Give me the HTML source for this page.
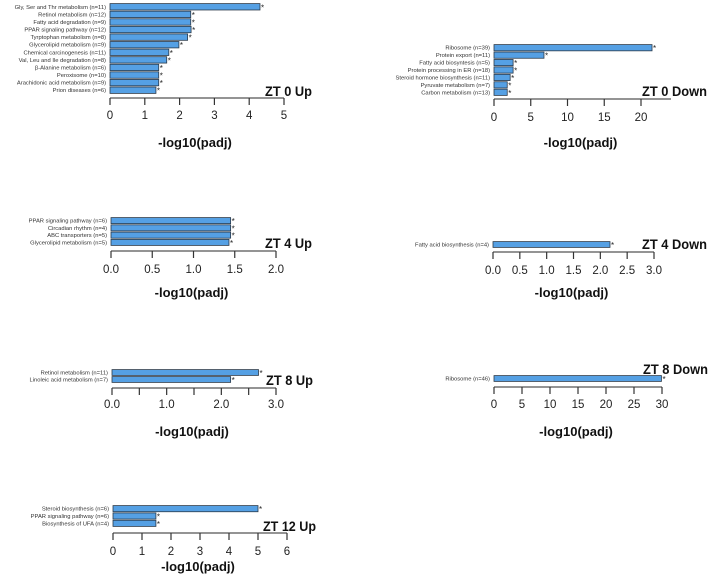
<!DOCTYPE html>
<html><head><meta charset="utf-8"><style>
html,body{margin:0;padding:0;background:#fff;}
svg{display:block;font-family:"Liberation Sans",Arial,sans-serif;}
</style></head><body>
<svg id="chart" width="708" height="582" viewBox="0 0 708 582" xmlns="http://www.w3.org/2000/svg"></svg>
<script>
const zt0UpCats=["Gly, Ser and Thr metabolism (n=11)","Retinol metabolism (n=12)","Fatty acid degradation (n=9)","PPAR signaling pathway (n=12)","Tyrptophan metabolism (n=8)","Glycerolipid metabolism (n=9)","Chemical carcinogenesis (n=11)","Val, Leu and Ile degradation (n=8)","β-Alanine metabolism (n=6)","Peroxisome (n=10)","Arachidonic acid metabolism (n=9)","Prion diseases (n=6)"];
const zt0UpVals=[4.31,2.32,2.32,2.33,2.23,1.98,1.69,1.63,1.4,1.4,1.4,1.32];
const zt0UpTicks=["0","1","2","3","4","5"];
const zt0DownCats=["Ribosome (n=39)","Protein export (n=11)","Fatty acid biosyntesis (n=5)","Protein processing in ER (n=18)","Steroid hormone biosynthesis (n=11)","Pyruvate metabolism (n=7)","Carbon metabolism (n=13)"];
const zt0DownVals=[21.5,6.8,2.6,2.6,2.2,1.8,1.8];
const zt0DownTicks=["0","5","10","15","20"];
const zt4UpCats=["PPAR signaling pathway (n=6)","Circadian rhythm (n=4)","ABC transporters (n=5)","Glycerolipid metabolism (n=5)"];
const zt4UpVals=[1.45,1.45,1.45,1.43];
const zt4UpTicks=["0.0","0.5","1.0","1.5","2.0"];
const zt4DownCats=["Fatty acid biosynthesis (n=4)"];
const zt4DownVals=[2.18];
const zt4DownTicks=["0.0","0.5","1.0","1.5","2.0","2.5","3.0"];
const zt8UpCats=["Retinol metabolism (n=11)","Linoleic acid metabolism (n=7)"];
const zt8UpVals=[2.68,2.17];
const zt8UpTicks=["0.0","","1.0","","2.0","","3.0"];
const zt8DownCats=["Ribosome (n=46)"];
const zt8DownVals=[29.9];
const zt8DownTicks=["0","5","10","15","20","25","30"];
const zt12UpCats=["Steroid biosynthesis (n=6)","PPAR signaling pathway (n=6)","Biosynthesis of UFA (n=4)"];
const zt12UpVals=[5.0,1.48,1.48];
const zt12UpTicks=["0","1","2","3","4","5","6"];

const svg=document.getElementById('chart');
const NS='http://www.w3.org/2000/svg';
function mk(tag,attrs,parent){const e=document.createElementNS(NS,tag);for(const k in attrs)e.setAttribute(k,attrs[k]);(parent||svg).appendChild(e);return e;}

function panel(id,cats,vals,ticks,tickStep,x0,x1,yTop,yBot,axisY,axisEnd,labY,titleY,title,titleX,titleY2,titleW){
  const g=mk('g',{});
  
  
  const maxV=(ticks.length-1)*tickStep;
  const sx=v=>x0+(x1-x0)*v/maxV;
  const pitch=(yBot-yTop)/cats.length;
  cats.forEach((c,i)=>{
    const y=yTop+i*pitch;
    const r=mk('rect',{x:x0,y:y+0.6,width:sx(vals[i])-x0,height:pitch-1.2,fill:'#55a0e4',stroke:'#2b3a4a','stroke-width':0.8},g);
    
    
    const t=mk('text',{x:x0-4,y:y+pitch/2+2,'font-size':5.8,'text-anchor':'end',fill:'#333'},g);
    t.textContent=c;
    
    
    const s=mk('text',{x:sx(vals[i])+1,y:y+pitch/2+3.5,'font-size':8,fill:'#222'},g);
    s.textContent='*';
    
    
  });
  const ax=mk('line',{x1:x0,x2:axisEnd,y1:axisY,y2:axisY,stroke:'#555','stroke-width':1.2},g);
  
  
  ticks.forEach((tk,i)=>{
    const x=sx(i*tickStep);
    mk('line',{x1:x,x2:x,y1:axisY,y2:axisY+7,stroke:'#333','stroke-width':1.2},g);
    if(tk){
      const t=mk('text',{x:x,y:labY+4,'font-size':11.5,'text-anchor':'middle',fill:'#222'},g);
      t.textContent=tk;
      
      
    }
  });
  if(titleY){
    const at=mk('text',{x:(x0+axisEnd)/2-2,y:titleY+4,'font-size':13,'font-weight':'bold','text-anchor':'middle',fill:'#111'},g);
    at.textContent='-log10(padj)';
    
    
  }
  const pt=mk('text',{x:titleX,y:titleY2+5,'font-size':14,'font-weight':'bold',fill:'#111',textLength:titleW,lengthAdjust:'spacingAndGlyphs'},g);
  pt.textContent=title;
  
  
}
panel('zt0-up',zt0UpCats,zt0UpVals,zt0UpTicks,1,110,284,3,94,98,284,115,143,'ZT 0 Up',265,91,47);
panel('zt0-down',zt0DownCats,zt0DownVals,zt0DownTicks,5,494,641,44,96,99,671,117,143,'ZT 0 Down',642,91,65);
panel('zt4-up',zt4UpCats,zt4UpVals,zt4UpTicks,0.5,111,276,217,246,251,276,269,293,'ZT 4 Up',265,243,47);
panel('zt4-down',zt4DownCats,zt4DownVals,zt4DownTicks,0.5,493,654,241,248,252,654,270,293,'ZT 4 Down',642,244,65);
panel('zt8-up',zt8UpCats,zt8UpVals,zt8UpTicks,0.5,112,276,369,383,388,276,404,432,'ZT 8 Up',266,380,47);
panel('zt8-down',zt8DownCats,zt8DownVals,zt8DownTicks,5,494,662,375,382,387,662,404,432,'ZT 8 Down',643,369,65);
panel('zt12-up',zt12UpCats,zt12UpVals,zt12UpTicks,1,113,287,505,527,533,287,551,567,'ZT 12 Up',263,526,53);
</script>
</body></html>
